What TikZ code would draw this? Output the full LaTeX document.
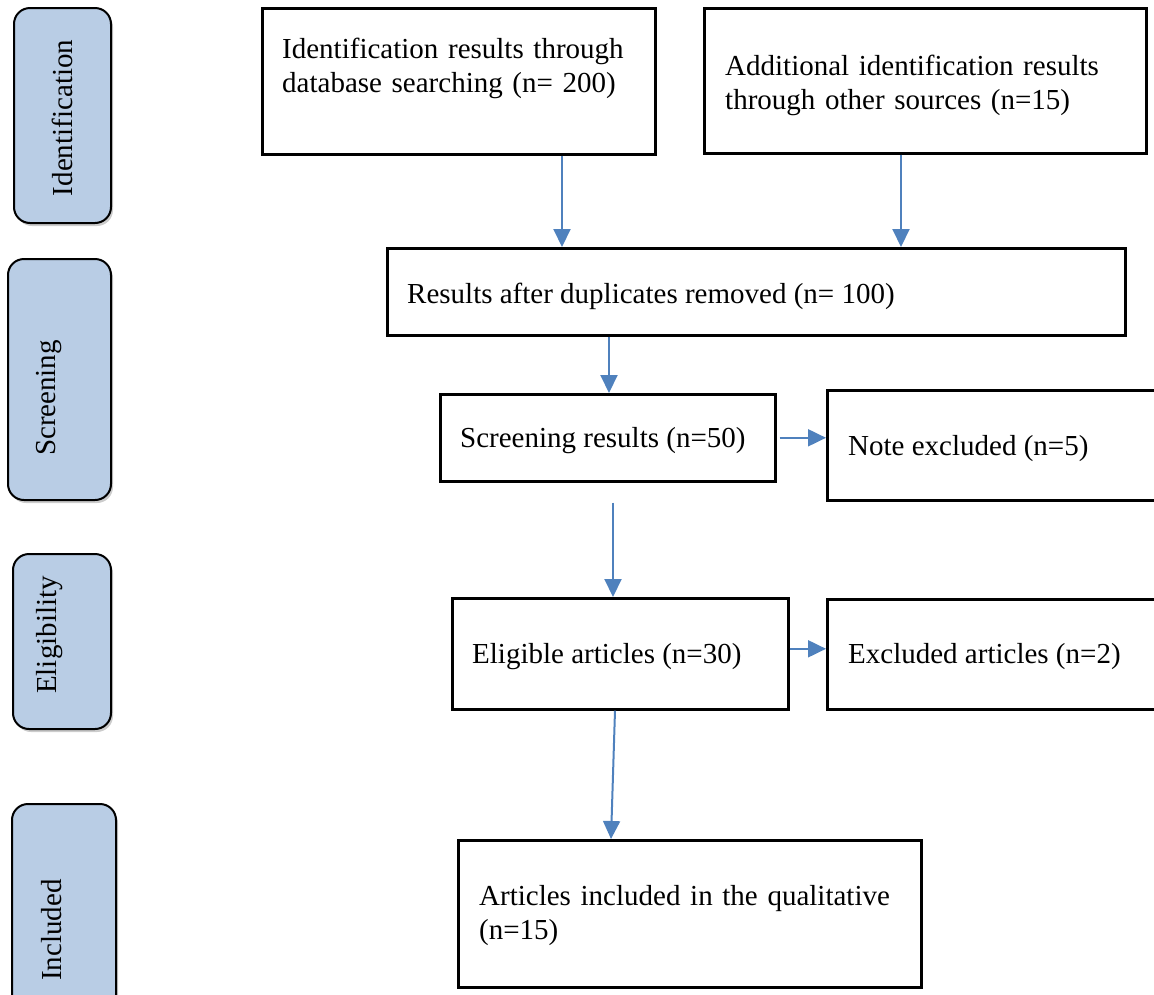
\documentclass[tikz,border=0pt]{standalone}
\usepackage{fontspec}
\setmainfont{Liberation Serif}
\usetikzlibrary{arrows.meta,shadows}
\definecolor{stageblue}{HTML}{B9CDE5}
\definecolor{flowblue}{HTML}{4F81BD}

\begin{document}
\begin{tikzpicture}[x=1pt, y=-1pt,
    stage/.style={draw, line width=2pt, rounded corners=16pt, fill=stageblue, inner sep=0pt, anchor=north west,
        drop shadow={shadow xshift=2pt, shadow yshift=-3pt, opacity=0.4}},
    stagetext/.style={rotate=90, inner sep=0pt, font=\fontsize{29}{34}\selectfont},
    box/.style={draw, line width=2.6pt, inner sep=0pt, anchor=north west},
    boxtext/.style={inner sep=0pt, anchor=base west, align=left, font=\fontsize{29}{34}\selectfont},
    flow/.style={flowblue, line width=2pt, -{Triangle[length=18pt,width=17pt]}}]

    \useasboundingbox (0,0) rectangle (1154,994);

    % phases on the left
    \node[stage, minimum width=97pt, minimum height=215pt] (ident) at (13,7) {};
    \node[stagetext] (identtxt) at (62,118) {Identification};
    \node[stage, minimum width=103pt, minimum height=241pt] (screen) at (7,258) {};
    \node[stagetext] (screentxt) at (49,398) {Screening};
    \node[stage, minimum width=98pt, minimum height=175pt] (elig) at (12,553) {};
    \node[stagetext] (eligtxt) at (50,635) {Eligibility};
    \node[stage, minimum width=104pt, minimum height=250pt] (incl) at (11,803) {};
    \node[stagetext] (incltxt) at (52,930) {Included};

    % boxes
    \node[box, minimum width=393pt, minimum height=146pt] (b1) at (261,7) {};
    \node[boxtext, text width=380pt] (t1) at (282,58) {Identification results through\\database searching (n= 200)};
    \node[box, minimum width=442pt, minimum height=145pt] (b2) at (703,7) {};
    \node[boxtext, text width=420pt] (t2) at (725,75) {Additional identification results\\through other sources (n=15)};

    \node[box, minimum width=738pt, minimum height=87pt] (b3) at (386,247) {};
    \node[boxtext] (t3) at (407,303) {Results after duplicates removed (n= 100)};

    \node[box, minimum width=335pt, minimum height=87pt] (b4) at (439,393) {};
    \node[boxtext] (t4) at (460,447) {Screening results (n=50)};
    \node[box, minimum width=340pt, minimum height=110pt] (b5) at (826,389) {};
    \node[boxtext] (t5) at (848,455) {Note excluded (n=5)};

    \node[box, minimum width=336pt, minimum height=111pt] (b6) at (451,597) {};
    \node[boxtext] (t6) at (472,663) {Eligible articles (n=30)};
    \node[box, minimum width=340pt, minimum height=110pt] (b7) at (826,598) {};
    \node[boxtext] (t7) at (848,663) {Excluded articles (n=2)};

    \node[box, minimum width=463pt, minimum height=147pt] (b8) at (457,839) {};
    \node[boxtext, text width=440pt] (t8) at (479,905) {Articles included in the qualitative\\(n=15)};

    % arrows
    \draw[flow] ([xshift=301pt]b1.south west) coordinate (s1) -- (s1 |- b3.north);
    \draw[flow] ([xshift=198pt]b2.south west) coordinate (s2) -- (s2 |- b3.north);
    \draw[flow] ([xshift=223pt]b3.south west) coordinate (s3) -- (s3 |- b4.north);
    \draw[flow] ([xshift=3pt]b4.east) -- (b4.east -| b5.west);
    \draw[flow] ([xshift=174pt,yshift=-20pt]b4.south west) coordinate (s5) -- (s5 |- b6.north);
    \draw[flow] ([yshift=5pt]b6.east) coordinate (s6) -- (s6 -| b7.west);
    \draw[flow] ([xshift=164pt]b6.south west) -- ([xshift=154pt]b8.north west);
\end{tikzpicture}
\end{document}
